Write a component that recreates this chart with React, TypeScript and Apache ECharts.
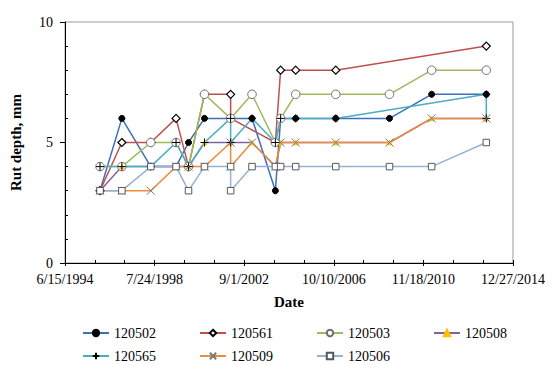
import React, { useEffect, useRef } from 'react';
import * as echarts from 'echarts';

// Measurement dates (two entries share a date where a section has two readings)
const DATES = [
  '1996-01-22', '1997-01-22', '1998-05-21', '1999-07-18', '2000-02-12', '2000-11-05',
  '2002-01-17', '2002-01-17', '2003-01-10', '2004-02-05', '2004-05-03', '2005-01-10',
  '2006-11-12', '2009-04-29', '2011-04-05', '2013-10-06', '2013-10-06',
];

const S120502 = [3, 6, 4, 4, 5, 6, 6, null, 6, 3, 6, 6, 6, 6, 7, 7, null];
const S120561 = [3, 5, 5, 6, 4, 7, 7, 6, null, 5, 8, 8, 8, null, null, 9, null];
const S120503 = [4, 4, 5, 5, 4, 7, 6, null, 7, 5, 6, 7, 7, 7, 8, 8, null];
const S120508 = [3, 4, 4, 4, 4, 5, 5, null, 5, 4, 5, 5, 5, 5, 6, 6, null];
const S120565 = [4, 4, 4, 5, 4, 5, 6, 5, 6, 5, 6, 6, 6, null, null, 7, 6];
const S120509 = [3, 3, 3, 4, 4, 4, 5, 4, 5, 4, 5, 5, 5, 5, 6, 6, null];
const S120506 = [3, 3, 4, 4, 3, 4, 4, 3, 4, 4, 4, 4, 4, 4, 4, 5, null];

const NAMES = ['120502', '120561', '120503', '120508', '120565', '120509', '120506'];
const VALUES = [S120502, S120561, S120503, S120508, S120565, S120509, S120506];

const X_TICK_START = '1994-06-15';
const X_TICK_DAYS = 1500;
const X_TICK_COUNT = 5;
const Y_MIN = 0;
const Y_MAX = 10;
const Y_STEP = 5;

const X_TITLE = 'Date';
const Y_TITLE = 'Rut depth, mm';

const DAY = 86400000;
const FONT = 'Liberation Serif';

const PLUS = 'path://M0,5L10,5M5,0L5,10';
const CROSS = 'path://M0,0L10,10M10,0L0,10';

const STYLES = [
  { line: '#3F6FB6', symbol: 'circle', size: 6, fill: '#000000', stroke: '#000000', bw: 1 },
  { line: '#C0504D', symbol: 'diamond', size: 8, fill: '#ffffff', stroke: '#000000', bw: 1.2 },
  { line: '#9BBB59', symbol: 'circle', size: 8.5, fill: '#ffffff', stroke: '#6e6e6e', bw: 1 },
  { line: '#8064A2', symbol: 'triangle', size: 5, fill: '#FFC000', stroke: '#FFC000', bw: 0.5 },
  { line: '#4BACC6', symbol: PLUS, size: 8, fill: 'none', stroke: '#000000', bw: 1 },
  { line: '#F08A3C', symbol: CROSS, size: 8, fill: 'none', stroke: '#7a7a7a', bw: 1 },
  { line: '#95B3D7', symbol: 'rect', size: 6.5, fill: '#ffffff', stroke: '#595959', bw: 1 },
];

function t(s: string) {
  return Date.parse(s);
}

function fmtDate(v: number) {
  const d = new Date(v);
  return `${d.getUTCMonth() + 1}/${d.getUTCDate()}/${d.getUTCFullYear()}`;
}

export default function App() {
  const ref = useRef<HTMLDivElement>(null);

  useEffect(() => {
    if (!ref.current) return;
    const chart = echarts.init(ref.current, undefined, { renderer: 'svg' });
    const xMin = t(X_TICK_START);
    const xStep = X_TICK_DAYS * DAY;
    const xMax = xMin + X_TICK_COUNT * xStep;

    const series = NAMES.map((name, k) => {
      const st = STYLES[k];
      const data = DATES.map((d, i) => [t(d), VALUES[k][i]]).filter((p) => p[1] !== null);
      return {
        name,
        type: 'line',
        data,
        symbol: st.symbol,
        symbolSize: st.size,
        symbolKeepAspect: true,
        showSymbol: true,
        lineStyle: { color: st.line, width: 1.5 },
        itemStyle: { color: st.fill, borderColor: st.stroke, borderWidth: st.bw },
        emphasis: { disabled: true },
      };
    });

    const legendBase = {
      orient: 'horizontal',
      padding: 0,
      itemWidth: 26,
      itemHeight: 8,
      itemGap: 43,
      textStyle: { fontFamily: FONT, fontSize: 14, color: '#000' },
      selectedMode: false,
    };

    chart.setOption({
      animation: false,
      backgroundColor: '#ffffff',
      textStyle: { fontFamily: FONT },
      grid: {
        left: 56,
        right: 42,
        top: 22,
        bottom: 102,
        show: true,
        borderColor: '#999999',
        borderWidth: 1,
        backgroundColor: 'transparent',
      },
      legend: [
        { ...legendBase, data: NAMES.slice(0, 4), left: 82, top: 326 },
        { ...legendBase, data: NAMES.slice(4), left: 82, top: 349 },
      ],
      xAxis: [
        {
          type: 'value',
          min: xMin,
          max: xMax,
          interval: xStep,
          position: 'bottom',
          name: X_TITLE,
          nameLocation: 'middle',
          nameGap: 31,
          nameTextStyle: { fontFamily: FONT, fontSize: 15, fontWeight: 'bold', color: '#000' },
          axisLine: { show: true, onZero: false, lineStyle: { color: '#000', width: 1 } },
          axisTick: { show: true, inside: false, length: 3, lineStyle: { color: '#000' } },
          axisLabel: {
            fontFamily: FONT,
            fontSize: 14,
            color: '#000',
            margin: 9,
            formatter: (v: number) => fmtDate(v),
            showMinLabel: true,
            showMaxLabel: true,
          },
          splitLine: { show: false },
        },
        {
          type: 'value',
          min: xMin,
          max: xMax,
          interval: xStep,
          position: 'bottom',
          axisLine: { show: false, onZero: false },
          axisTick: { show: true, inside: true, length: 3, lineStyle: { color: '#000' } },
          minorTick: { show: true, splitNumber: 3, length: 3, lineStyle: { color: '#000' } },
          axisLabel: { show: false },
          splitLine: { show: false },
        },
      ],
      yAxis: [
        {
          type: 'value',
          min: Y_MIN,
          max: Y_MAX,
          interval: Y_STEP,
          position: 'left',
          name: Y_TITLE,
          nameLocation: 'middle',
          nameGap: 42,
          nameRotate: 90,
          nameTextStyle: { fontFamily: FONT, fontSize: 15, fontWeight: 'bold', color: '#000' },
          axisLine: { show: true, onZero: false, lineStyle: { color: '#000', width: 1 } },
          axisTick: { show: true, inside: false, length: 5, lineStyle: { color: '#000' } },
          axisLabel: { fontFamily: FONT, fontSize: 14, color: '#000', margin: 12 },
          splitLine: { show: false },
        },
        {
          type: 'value',
          min: Y_MIN,
          max: Y_MAX,
          interval: Y_STEP,
          position: 'left',
          offset: 0,
          axisLine: { show: false, onZero: false },
          axisTick: { show: false, inside: true },
          minorTick: { show: true, splitNumber: 5, length: 3, lineStyle: { color: '#000' } },
          axisLabel: { show: false },
          splitLine: { show: false },
        },
      ],
      series,
    });

    return () => chart.dispose();
  }, []);

  return (
    <div
      ref={ref}
      style={{ position: 'fixed', left: 0, top: 0, width: 555, height: 365, background: '#fff' }}
    />
  );
}
